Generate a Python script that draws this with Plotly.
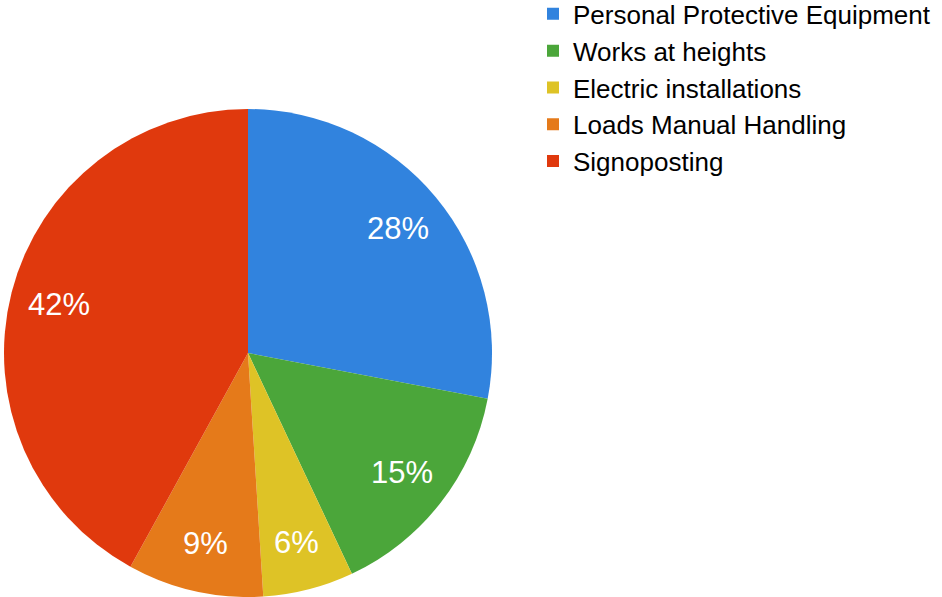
import math
import plotly.graph_objects as go

labels = ["Personal Protective Equipment", "Works at heights", "Electric installations",
          "Loads Manual Handling", "Signoposting"]
values = [28, 15, 6, 9, 42]
colors = ["#3183DE", "#4BA63A", "#DEC326", "#E57A1A", "#E0390D"]

FONT = "Liberation Sans, Arial, sans-serif"
W, H = 942, 597
dom_x = [4 / W, 492 / W]
dom_y = [0, 488 / H]

fig = go.Figure(go.Pie(
    labels=labels,
    values=values,
    sort=False,
    direction="clockwise",
    rotation=0,
    marker=dict(colors=colors, line=dict(width=0)),
    textinfo="none",
    domain=dict(x=dom_x, y=dom_y),
    hoverinfo="label+percent",
))

# percentage labels placed at the angular middle of each slice
total = sum(values)
cx = (dom_x[0] + dom_x[1]) / 2
cy = (dom_y[0] + dom_y[1]) / 2
rx = (dom_x[1] - dom_x[0]) / 2
ry = (dom_y[1] - dom_y[0]) / 2
frac = 0.8
cum = 0
for v in values:
    mid = (cum + v / 2) / total * 2 * math.pi
    cum += v
    fig.add_annotation(
        x=cx + frac * rx * math.sin(mid),
        y=cy + frac * ry * math.cos(mid),
        xref="paper", yref="paper",
        text=f"{round(v / total * 100)}%",
        showarrow=False,
        font=dict(family=FONT, size=31, color="white"),
        xanchor="center", yanchor="middle",
    )

fig.update_layout(
    width=W, height=H,
    margin=dict(l=0, r=0, t=0, b=0, autoexpand=False),
    paper_bgcolor="white",
    plot_bgcolor="white",
    font=dict(family=FONT, color="black"),
    legend=dict(x=533 / W, xanchor="left", y=1.016, yanchor="top",
                font=dict(size=26, color="black"), bgcolor="rgba(0,0,0,0)",
                borderwidth=0),
    showlegend=True,
)

fig.write_html("out.html", config={"displayModeBar": False},
               post_script="document.body.style.margin='0';document.body.style.padding='0';")
